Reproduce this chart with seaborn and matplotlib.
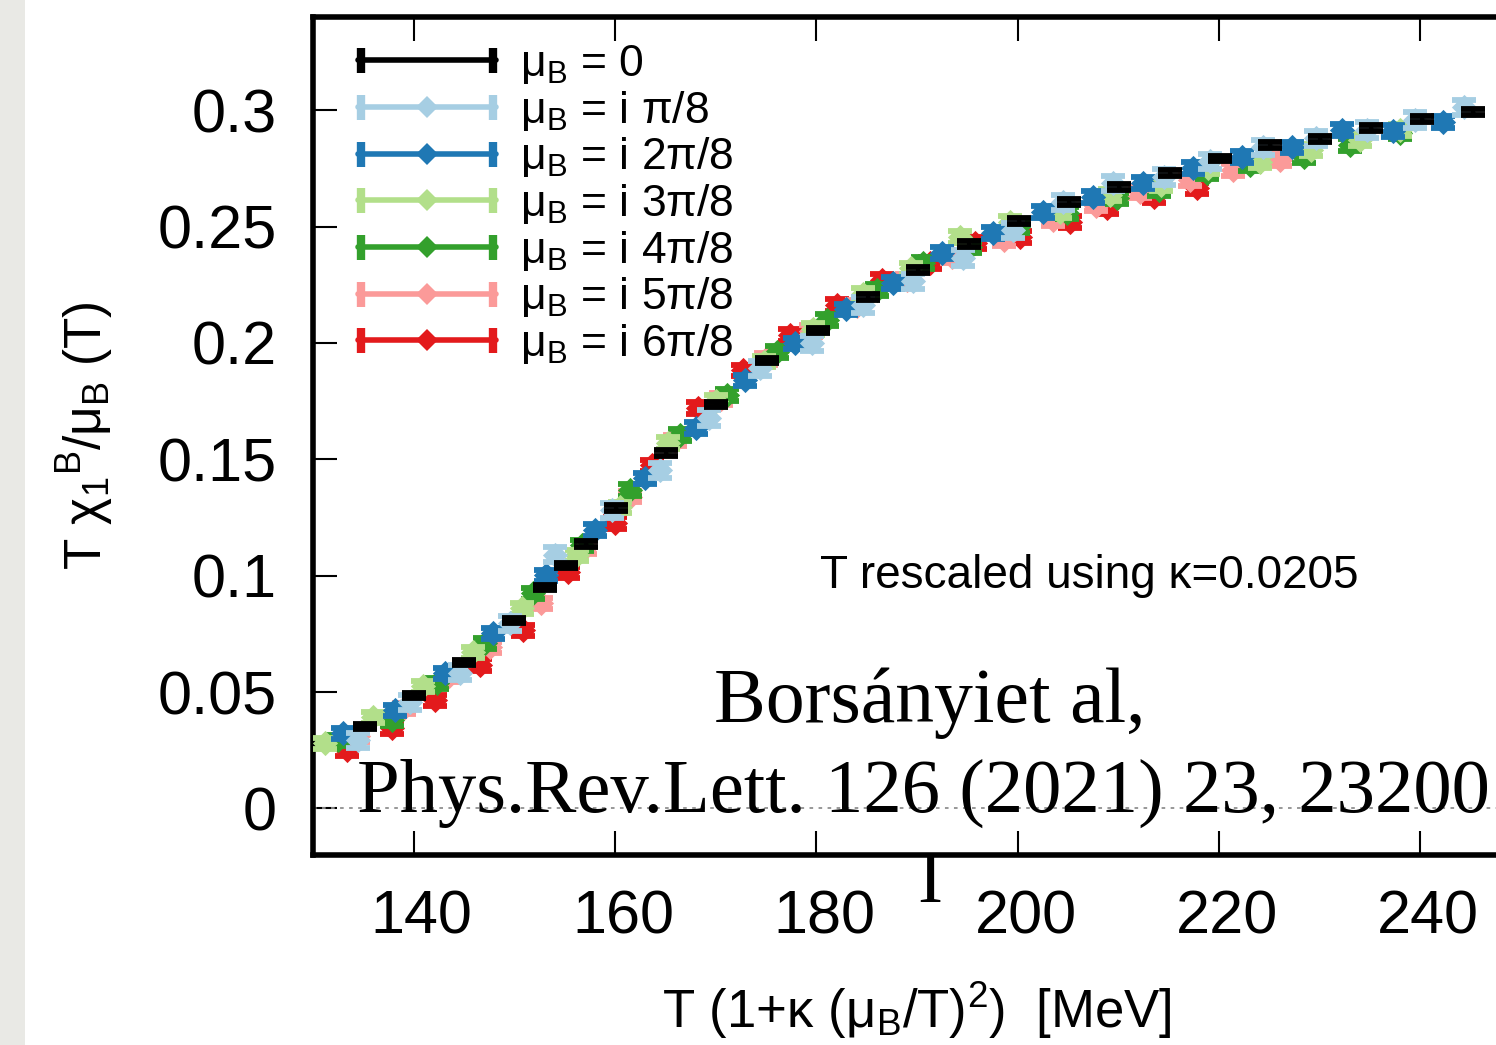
import numpy as np
import pandas as pd
import seaborn as sns
import matplotlib
matplotlib.use("Agg")
import matplotlib.pyplot as plt
from matplotlib.lines import Line2D
from matplotlib.legend_handler import HandlerBase
from matplotlib.patches import Rectangle
from matplotlib.transforms import ScaledTranslation

# ---------------- data ----------------
T0 = [135.2, 140.0, 145.0, 150.0, 153.0, 155.1, 157.1, 160.1, 165.1, 170.0, 175.1, 180.2, 185.1,
      190.1, 195.2, 200.1, 205.1, 210.1, 215.1, 220.1, 225.1, 230.0, 235.1, 240.2, 245.2]
Y0 = [0.0352, 0.0486, 0.0627, 0.0808, 0.0950, 0.1044, 0.1135, 0.1291, 0.1526, 0.1736, 0.1925, 0.2054, 0.2196,
      0.2312, 0.2424, 0.2523, 0.2604, 0.2669, 0.2729, 0.2793, 0.2849, 0.2875, 0.2922, 0.2961, 0.2991]

T1 = [134.5, 139.6, 144.6, 149.6, 154.0, 159.7, 164.5, 169.3, 174.4, 179.6, 184.6, 189.6, 194.6,
      199.5, 204.5, 209.5, 214.5, 219.1, 224.4, 229.6, 234.7, 239.5, 244.3]
Y1 = [0.0292, 0.0456, 0.0584, 0.0795, 0.1090, 0.1280, 0.1453, 0.1678, 0.1890, 0.1998, 0.2162, 0.2265, 0.2364,
      0.2484, 0.2604, 0.2686, 0.2712, 0.2780, 0.2840, 0.2879, 0.2914, 0.2957, 0.3012]

T2 = [133.0, 138.1, 143.1, 147.9, 153.1, 158.0, 163.0, 168.0, 172.9, 177.9, 182.9, 187.6, 192.5,
      197.5, 202.5, 207.5, 212.5, 217.4, 222.3, 227.3, 232.2, 237.3, 242.3]
Y2 = [0.0322, 0.0421, 0.0580, 0.0752, 0.1001, 0.1195, 0.1418, 0.1633, 0.1839, 0.1998, 0.2144, 0.2256, 0.2385,
      0.2471, 0.2561, 0.2626, 0.2686, 0.2750, 0.2798, 0.2840, 0.2914, 0.2909, 0.2948]

T3 = [131.2, 136.0, 140.9, 145.9, 150.8, 156.2, 160.5, 165.3, 170.0, 174.8, 179.7, 184.6, 189.4,
      194.3, 199.2, 204.2, 209.2, 214.2, 218.9, 224.1, 229.1, 234.0, 238.0]
Y3 = [0.0279, 0.0391, 0.0524, 0.0670, 0.0859, 0.1087, 0.1293, 0.1569, 0.1750, 0.1920, 0.2060, 0.2210, 0.2320,
      0.2454, 0.2518, 0.2561, 0.2634, 0.2677, 0.2750, 0.2776, 0.2828, 0.2871, 0.2914]

T4 = [132.5, 137.8, 142.3, 147.1, 151.9, 156.7, 161.5, 166.5, 171.1, 176.1, 181.1, 186.0, 190.6,
      195.3, 200.0, 204.9, 209.9, 214.0, 218.8, 223.1, 228.4, 233.0, 238.0]
Y4 = [0.0292, 0.0378, 0.0537, 0.0709, 0.0924, 0.1130, 0.1367, 0.1603, 0.1775, 0.1960, 0.2097, 0.2226, 0.2344,
      0.2410, 0.2497, 0.2557, 0.2621, 0.2656, 0.2729, 0.2763, 0.2798, 0.2849, 0.2901]

T5 = [134.5, 139.0, 143.5, 147.6, 152.6, 157.0, 161.5, 166.0, 170.5, 175.0, 179.5, 184.0, 189.0,
      193.5, 198.6, 203.5, 207.8, 212.2, 217.1, 221.4, 226.1]
Y5 = [0.0310, 0.0430, 0.0570, 0.0692, 0.0881, 0.1120, 0.1340, 0.1580, 0.1760, 0.1930, 0.2050, 0.2160, 0.2270,
      0.2370, 0.2441, 0.2527, 0.2590, 0.2647, 0.2699, 0.2742, 0.2785]

T6 = [133.4, 137.8, 142.1, 146.6, 150.9, 155.3, 160.0, 163.7, 168.2, 172.7, 177.4, 182.1, 186.5,
      191.3, 195.8, 200.2, 205.2, 208.9, 213.5, 217.8]
Y6 = [0.0249, 0.0344, 0.0464, 0.0615, 0.0765, 0.1014, 0.1225, 0.1474, 0.1719, 0.1882, 0.2033, 0.2162, 0.2269,
      0.2342, 0.2428, 0.2454, 0.2518, 0.2578, 0.2626, 0.2664]

ERR = [0.0012, 0.0033, 0.0025, 0.0025, 0.0025, 0.0025, 0.0025]

LABELS = ["μ$_\\mathrm{B}$ = 0", "μ$_\\mathrm{B}$ = i π/8", "μ$_\\mathrm{B}$ = i 2π/8",
          "μ$_\\mathrm{B}$ = i 3π/8", "μ$_\\mathrm{B}$ = i 4π/8", "μ$_\\mathrm{B}$ = i 5π/8",
          "μ$_\\mathrm{B}$ = i 6π/8"]
COLORS = ["#000000", "#a6cee3", "#1f78b4", "#b2df8a", "#33a02c", "#fb9a99", "#e31a1c"]

XTICKS = [140, 160, 180, 200, 220, 240]
YTICKS = [0, 0.05, 0.1, 0.15, 0.2, 0.25, 0.3]
YTICKLABELS = ["0", "0.05", "0.1", "0.15", "0.2", "0.25", "0.3"]

# ---------------- style ----------------
sns.set_style("ticks")
plt.rcParams["font.family"] = ["Liberation Sans", "DejaVu Sans"]
plt.rcParams["mathtext.fontset"] = "custom"
plt.rcParams["mathtext.rm"] = "Liberation Sans"
plt.rcParams["mathtext.it"] = "Liberation Sans"
plt.rcParams["mathtext.sf"] = "Liberation Sans"
plt.rcParams["mathtext.bf"] = "Liberation Sans:bold"
for key in ["text.color", "axes.labelcolor", "xtick.color", "ytick.color",
            "xtick.labelcolor", "ytick.labelcolor", "axes.edgecolor"]:
    plt.rcParams[key] = "black"

Ts = [T0, T1, T2, T3, T4, T5, T6]
Ys = [Y0, Y1, Y2, Y3, Y4, Y5, Y6]
frames = []
for i, (t, y) in enumerate(zip(Ts, Ys)):
    frames.append(pd.DataFrame({"T": t, "Y": y, "err": ERR[i], "series": LABELS[i]}))
df = pd.concat(frames, ignore_index=True)

fig = plt.figure(figsize=(14.96, 10.45), dpi=100)
fig.patches.append(Rectangle((0, 0), 25 / 1496, 1, transform=fig.transFigure,
                             facecolor="#e9e9e5", edgecolor="none", zorder=0))
ax = fig.add_axes([313 / 1496, 1 - 855 / 1045, (1521 - 313) / 1496, (855 - 17) / 1045])

ax.axhline(0, color="#909090", lw=1.3, ls=(0, (2, 3)), zorder=1)

order = [6, 5, 4, 3, 2, 1, 0]
for z, i in enumerate(order):
    sub = df[df["series"] == LABELS[i]]
    c = COLORS[i]
    ax.errorbar(sub["T"], sub["Y"], yerr=sub["err"], fmt="none", ecolor=c,
                elinewidth=3, capsize=8.5, capthick=4.2, zorder=2 + 2 * z)
    if i == 0:
        sns.scatterplot(data=sub, x="T", y="Y", marker="o", s=8, color=c, linewidth=0,
                        ax=ax, legend=False, zorder=3 + 2 * z)
    else:
        sns.scatterplot(data=sub, x="T", y="Y", marker="D", s=165, color=c, linewidth=0,
                        ax=ax, legend=False, zorder=3 + 2 * z)

ax.set_xlim(130, 250)
ax.set_ylim(-0.02, 0.34)
ax.set_xticks(XTICKS)
ax.set_xticklabels([str(v) for v in XTICKS])
ax.set_yticks(YTICKS)
ax.set_yticklabels(YTICKLABELS)
ax.tick_params(direction="in", length=17, width=1.5, top=True, right=True,
               labelsize=44, pad=26, color="black", labelcolor="black")
ax.tick_params(axis="x", pad=25)
for s in ax.spines.values():
    s.set_linewidth(4)
    s.set_color("black")
shift = ScaledTranslation(8 / 100, 0, fig.dpi_scale_trans)
for lab in ax.get_xticklabels():
    lab.set_transform(lab.get_transform() + shift)

ax.set_xlabel("T (1+κ (μ$_\\mathrm{B}$/T)$^2$)  [MeV]", fontsize=38, labelpad=24)
ax.set_ylabel("T χ$_1$$^\\mathrm{B}$/μ$_\\mathrm{B}$ (T)", fontsize=37, labelpad=30)

ax.text(207.1, 0.0997, "T rescaled using κ=0.0205", fontsize=33, ha="center", va="center")


# legend in gnuplot style: line with caps and a marker in the middle
class CapHandler(HandlerBase):
    def create_artists(self, legend, orig_handle, xdescent, ydescent, width, height, fontsize, trans):
        c = orig_handle.get_color()
        y = (height - ydescent) / 2
        x0, x1 = -xdescent, width - xdescent
        line = Line2D([x0, x1], [y, y], color=c, lw=4)
        caps = Line2D([x0 + 2, x1 - 2], [y, y], ls="none", marker="|", markersize=18, mew=6, color=c)
        mk = Line2D([(x0 + x1) / 2], [y], ls="none", marker=orig_handle.get_marker(),
                    markersize=orig_handle.get_markersize(), color=c, mew=0)
        for a in (line, caps, mk):
            a.set_transform(trans)
        return [line, caps, mk]


handles = []
for i in range(7):
    handles.append(Line2D([], [], color=COLORS[i], marker="." if i == 0 else "D",
                          markersize=4 if i == 0 else 11))
fig.legend(handles, LABELS, loc="upper left", bbox_to_anchor=(358 / 1496, 1 - 43 / 1045),
           bbox_transform=fig.transFigure, frameon=False, fontsize=32, handlelength=3.1,
           handletextpad=0.55, labelspacing=0.06, borderpad=0, borderaxespad=0,
           handler_map={Line2D: CapHandler()})

# overlaid citation text
fig.text(930 / 1496, 1 - 722 / 1045, "Borsányiet al,", family=["Liberation Serif", "DejaVu Serif"],
         fontsize=56, ha="center", va="baseline", color="black", zorder=50)
fig.text(357 / 1496, 1 - 812 / 1045, "Phys.Rev.Lett. 126 (2021) 23, 23200",
         family=["Liberation Serif", "DejaVu Serif"], fontsize=55.3, ha="left", va="baseline",
         color="black", zorder=50)
fig.text(930 / 1496, 1 - 902 / 1045, "I", family=["Liberation Serif", "DejaVu Serif"],
         fontsize=54, ha="center", va="baseline", color="black", zorder=50)

fig.savefig("out.png", dpi=100)
